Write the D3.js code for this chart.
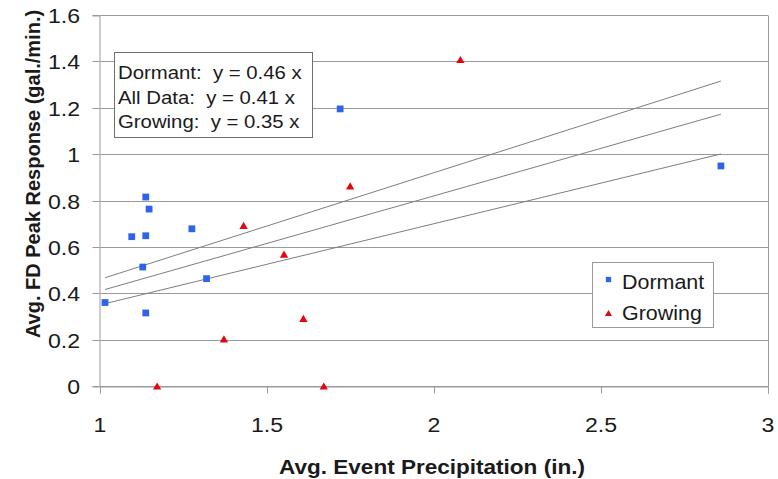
<!DOCTYPE html>
<html>
<head>
<meta charset="utf-8">
<script src="https://cdn.jsdelivr.net/npm/d3@7"></script>
<style>
  html, body { margin: 0; padding: 0; background: #fff; }
  svg { display: block; }
  text { font-family: "Liberation Sans", Arial, sans-serif; fill: #1a1a1a; }
</style>
</head>
<body>
<svg id="chart" width="778" height="479"></svg>
<script>
// Dormant-season events
const dormantX = [1.015, 1.095, 1.128, 1.137, 1.137, 1.147, 1.137, 1.275, 1.319, 1.719, 2.859];
const dormantY = [0.360, 0.644, 0.513, 0.815, 0.648, 0.763, 0.315, 0.678, 0.463, 1.195, 0.949];
// Growing-season events
const growingX = [1.171, 1.371, 1.430, 1.551, 1.609, 1.670, 1.749, 2.079];
const growingY = [0.000, 0.203, 0.693, 0.569, 0.292, 0.000, 0.863, 1.408];
// Regression slopes (lines through the origin)
const fitNames = ["Dormant", "All Data", "Growing"];
const fitSlopes = [0.46, 0.41, 0.35];
const xTicks = [1, 1.5, 2, 2.5, 3];
const yTicks = [0, 0.2, 0.4, 0.6, 0.8, 1, 1.2, 1.4, 1.6];

const svg = d3.select("#chart");
const plot = { left: 100, right: 768, top: 15, bottom: 386 };

const x = d3.scaleLinear().domain([1, 3]).range([plot.left, plot.right]);
const y = d3.scaleLinear().domain([0, 1.6]).range([plot.bottom, plot.top]);

const BLUE = "#2f63ea", RED = "#e3060f", GRID = "#9a9a9a";
const SX = 1.1; // slight horizontal widening of glyphs

function label(g, tx, ty, str, opts = {}) {
  return g.append("text")
    .attr("transform", `translate(${tx},${ty}) scale(${SX},1)`)
    .attr("text-anchor", opts.anchor || "start")
    .style("font-size", (opts.size || 18) + "px")
    .style("font-weight", opts.bold ? "bold" : "normal")
    .text(str);
}

// Horizontal gridlines
svg.append("g").selectAll("line").data(yTicks).join("line")
  .attr("x1", plot.left).attr("x2", plot.right)
  .attr("y1", d => Math.round(y(d)) + 0.5).attr("y2", d => Math.round(y(d)) + 0.5)
  .attr("stroke", GRID).attr("stroke-width", 1);

// Right border of plot area
svg.append("line")
  .attr("x1", plot.right + 0.5).attr("x2", plot.right + 0.5)
  .attr("y1", plot.top + 0.5).attr("y2", plot.bottom + 0.5)
  .attr("stroke", GRID);

// Y axis
const yAxis = svg.append("g")
  .attr("transform", `translate(${plot.left - 0.5},0.5)`)
  .call(d3.axisLeft(y).tickValues(yTicks).tickSize(7).tickFormat(""));
yAxis.select(".domain").attr("stroke", GRID);
yAxis.selectAll(".tick line").attr("stroke", GRID);
yAxis.selectAll(".tick").attr("transform", d => `translate(0,${Math.round(y(d))})`);

// X axis
const xAxis = svg.append("g")
  .attr("transform", `translate(0,${plot.bottom + 0.5})`)
  .call(d3.axisBottom(x).tickValues(xTicks).tickSize(7).tickFormat(""));
xAxis.select(".domain").attr("stroke", GRID);
xAxis.selectAll(".tick line").attr("stroke", GRID);

// Tick labels
const tl = svg.append("g");
yTicks.forEach(v => label(tl, 80, y(v) + 8, d3.format("~g")(v), { anchor: "end", size: 21 }));
xTicks.forEach(v => label(tl, x(v), 432, d3.format("~g")(v), { anchor: "middle", size: 21 }));

// Axis titles
label(svg, 432, 474, "Avg. Event Precipitation (in.)", { anchor: "middle", size: 20.5, bold: true });
svg.append("text")
  .attr("transform", `translate(40,174) rotate(-90)`)
  .attr("text-anchor", "middle")
  .style("font-size", "20px").style("font-weight", "bold")
  .text("Avg. FD Peak Response (gal./min.)");

// Trend lines over the data range
const allX = dormantX.concat(growingX);
const [xmin, xmax] = d3.extent(allX);
const line = d3.line().x(d => x(d[0])).y(d => y(d[1]));
svg.append("g").selectAll("path").data(fitSlopes).join("path")
  .attr("d", s => line([[xmin, s * xmin], [xmax, s * xmax]]))
  .attr("fill", "none").attr("stroke", "#7d7d7d").attr("stroke-width", 1);

// Markers
const dormant = dormantX.map((v, i) => [v, dormantY[i]]);
const growing = growingX.map((v, i) => [v, growingY[i]]);
const sq = d3.symbol().type(d3.symbolSquare).size(46);
const tri = d3.symbol().type(d3.symbolTriangle).size(30);

svg.append("g").selectAll("path").data(dormant).join("path")
  .attr("transform", d => `translate(${x(d[0])},${y(d[1])})`)
  .attr("d", sq).attr("fill", BLUE);
svg.append("g").selectAll("path").data(growing).join("path")
  .attr("transform", d => `translate(${x(d[0])},${y(d[1]) + 1.2})`)
  .attr("d", tri).attr("fill", RED);

// Equation box
const eq = svg.append("g");
eq.append("rect").attr("x", 114.5).attr("y", 52.5).attr("width", 198).attr("height", 85)
  .attr("fill", "#fff").attr("stroke", "#6e6e6e").attr("stroke-width", 1);
fitNames.forEach((n, i) => {
  label(eq, 118, 79 + i * 24.5, `${n}:\u00a0\u00a0y = ${fitSlopes[i].toFixed(2)} x`, { size: 18.5 });
});

// Legend
const lg = svg.append("g");
lg.append("rect").attr("x", 592.5).attr("y", 262.5).attr("width", 121).attr("height", 65)
  .attr("fill", "#fff").attr("stroke", "#9a9a9a").attr("stroke-width", 1);
lg.append("path").attr("transform", "translate(608.5,279.5)")
  .attr("d", d3.symbol().type(d3.symbolSquare).size(28)).attr("fill", BLUE);
lg.append("path").attr("transform", "translate(608.5,314)")
  .attr("d", d3.symbol().type(d3.symbolTriangle).size(22)).attr("fill", RED);
label(lg, 622, 288.5, "Dormant", { size: 19.5 });
label(lg, 622, 319.5, "Growing", { size: 19.5 });
</script>
</body>
</html>
